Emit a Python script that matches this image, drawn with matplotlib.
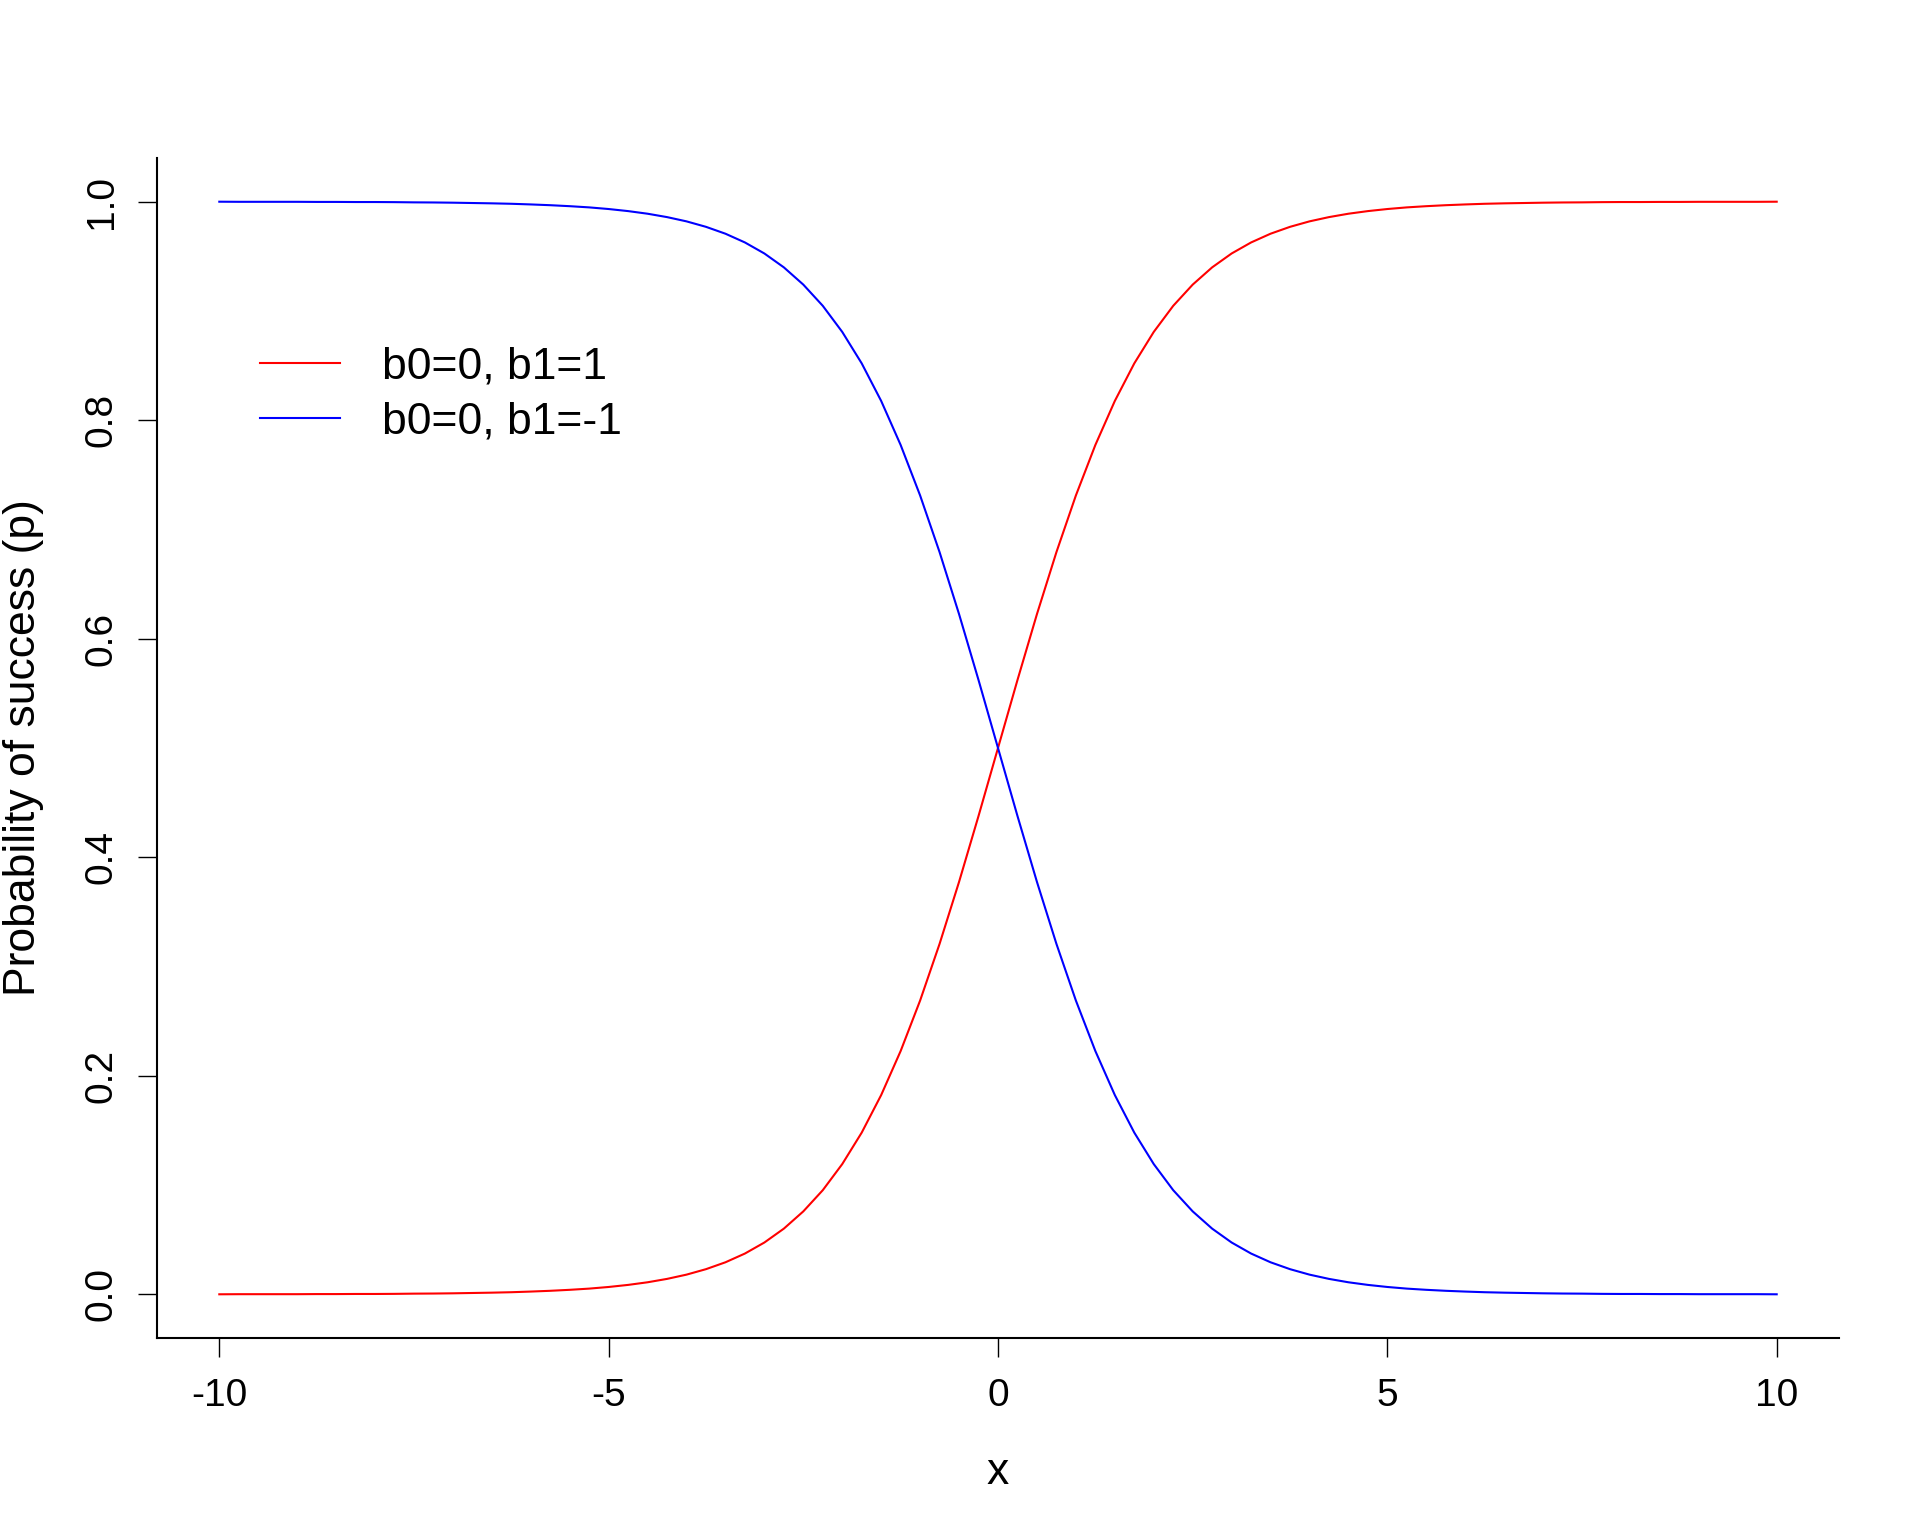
import matplotlib
matplotlib.use("Agg")
import matplotlib.pyplot as plt

plt.rcParams['font.family'] = ['Liberation Sans', 'DejaVu Sans']

# x values (step 0.25 from -10 to 10)
x_vals = [-10.0, -9.75, -9.5, -9.25, -9.0, -8.75, -8.5, -8.25, -8.0, -7.75,
          -7.5, -7.25, -7.0, -6.75, -6.5, -6.25, -6.0, -5.75, -5.5, -5.25,
          -5.0, -4.75, -4.5, -4.25, -4.0, -3.75, -3.5, -3.25, -3.0, -2.75,
          -2.5, -2.25, -2.0, -1.75, -1.5, -1.25, -1.0, -0.75, -0.5, -0.25,
          0.0, 0.25, 0.5, 0.75, 1.0, 1.25, 1.5, 1.75, 2.0, 2.25,
          2.5, 2.75, 3.0, 3.25, 3.5, 3.75, 4.0, 4.25, 4.5, 4.75,
          5.0, 5.25, 5.5, 5.75, 6.0, 6.25, 6.5, 6.75, 7.0, 7.25,
          7.5, 7.75, 8.0, 8.25, 8.5, 8.75, 9.0, 9.25, 9.5, 9.75, 10.0]

# b0=0, b1=1
p_pos = [0.0000, 0.0001, 0.0001, 0.0001, 0.0001, 0.0002, 0.0002, 0.0003, 0.0003, 0.0004,
         0.0006, 0.0007, 0.0009, 0.0012, 0.0015, 0.0019, 0.0025, 0.0032, 0.0041, 0.0052,
         0.0067, 0.0086, 0.0110, 0.0141, 0.0180, 0.0230, 0.0293, 0.0373, 0.0474, 0.0601,
         0.0759, 0.0953, 0.1192, 0.1480, 0.1824, 0.2227, 0.2689, 0.3208, 0.3775, 0.4378,
         0.5000, 0.5622, 0.6225, 0.6792, 0.7311, 0.7773, 0.8176, 0.8520, 0.8808, 0.9047,
         0.9241, 0.9399, 0.9526, 0.9627, 0.9707, 0.9770, 0.9820, 0.9859, 0.9890, 0.9914,
         0.9933, 0.9948, 0.9959, 0.9968, 0.9975, 0.9981, 0.9985, 0.9988, 0.9991, 0.9993,
         0.9994, 0.9996, 0.9997, 0.9997, 0.9998, 0.9998, 0.9999, 0.9999, 0.9999, 0.9999, 1.0000]

# b0=0, b1=-1
p_neg = [1.0000, 0.9999, 0.9999, 0.9999, 0.9999, 0.9998, 0.9998, 0.9997, 0.9997, 0.9996,
         0.9994, 0.9993, 0.9991, 0.9988, 0.9985, 0.9981, 0.9975, 0.9968, 0.9959, 0.9948,
         0.9933, 0.9914, 0.9890, 0.9859, 0.9820, 0.9770, 0.9707, 0.9627, 0.9526, 0.9399,
         0.9241, 0.9047, 0.8808, 0.8520, 0.8176, 0.7773, 0.7311, 0.6792, 0.6225, 0.5622,
         0.5000, 0.4378, 0.3775, 0.3208, 0.2689, 0.2227, 0.1824, 0.1480, 0.1192, 0.0953,
         0.0759, 0.0601, 0.0474, 0.0373, 0.0293, 0.0230, 0.0180, 0.0141, 0.0110, 0.0086,
         0.0067, 0.0052, 0.0041, 0.0032, 0.0025, 0.0019, 0.0015, 0.0012, 0.0009, 0.0007,
         0.0006, 0.0004, 0.0003, 0.0003, 0.0002, 0.0002, 0.0001, 0.0001, 0.0001, 0.0001, 0.0000]

series_labels = ["b0=0, b1=1", "b0=0, b1=-1"]
x_ticks = [-10, -5, 0, 5, 10]
x_ticklabels = ["-10", "-5", "0", "5", "10"]
y_ticks = [0.0, 0.2, 0.4, 0.6, 0.8, 1.0]
y_ticklabels = ["0.0", "0.2", "0.4", "0.6", "0.8", "1.0"]

W, H = 1920, 1536
fig = plt.figure(figsize=(W / 100, H / 100), dpi=100)
L, R, T, B = 157, 1839, 158, 1338
ax = fig.add_axes([L / W, 1 - B / H, (R - L) / W, (B - T) / H])

ax.plot(x_vals, p_pos, color='#FF0000', lw=1.5, label=series_labels[0])
ax.plot(x_vals, p_neg, color='#0000FF', lw=1.5, label=series_labels[1])

ax.set_xlim(-10.8, 10.8)
ax.set_ylim(-0.04, 1.04)
ax.set_xticks(x_ticks)
ax.set_xticklabels(x_ticklabels)
ax.set_yticks(y_ticks)
ax.set_yticklabels(y_ticklabels, rotation=90, va='center')

for s in ['top', 'right']:
    ax.spines[s].set_visible(False)
for s in ['left', 'bottom']:
    ax.spines[s].set_linewidth(1.5)

ax.tick_params(axis='both', direction='out', length=13.7, width=1.0,
               labelsize=28, colors='black')
ax.tick_params(axis='x', pad=15)
ax.tick_params(axis='y', pad=13)

ax.set_xlabel("x", fontsize=32)
ax.set_ylabel("Probability of success (p)", fontsize=32)
ax.xaxis.set_label_coords(0.5, (1 - 1473 / H - (1 - B / H)) / ((B - T) / H), transform=ax.transAxes)
ax.xaxis.label.set_va('center')
ax.yaxis.set_label_coords((24 - L) / (R - L), 0.5)
ax.yaxis.label.set_va('center')

leg = ax.legend(loc='upper left', bbox_to_anchor=(260 / W, 1 - 347 / H),
                bbox_transform=fig.transFigure, frameon=False, fontsize=32,
                handlelength=1.8, handletextpad=0.95, labelspacing=0.31,
                borderpad=0, borderaxespad=0)

fig.savefig("out.png", dpi=100, facecolor='white')
